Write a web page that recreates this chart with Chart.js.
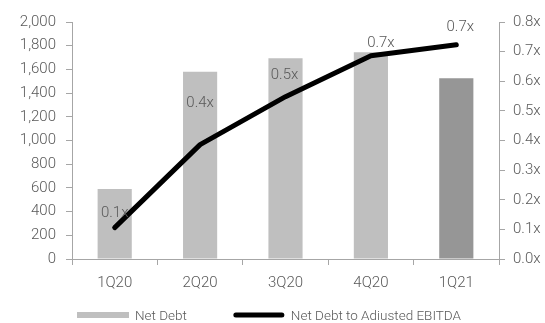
<!DOCTYPE html>
<html>
<head>
<meta charset="utf-8">
<script src="https://cdn.jsdelivr.net/npm/chart.js@4/dist/chart.umd.min.js"></script>
<style>
  html, body { margin: 0; padding: 0; background: #fff; }
  #wrap { width: 545px; height: 323px; }
</style>
</head>
<body>
<div id="wrap"><canvas id="chart"></canvas></div>
<script>
const quarters = ['1Q20', '2Q20', '3Q20', '4Q20', '1Q21'];
const netDebt = [590, 1580, 1695, 1745, 1525];
const leverage = [0.106, 0.386, 0.548, 0.686, 0.723];
const barColors = ['#bfbfbf', '#bfbfbf', '#bfbfbf', '#bfbfbf', '#969696'];

// label nudges (px) for the leverage callouts
const labelShift = [[0, -14], [0, -41], [-1, -21], [10, -13], [4, -18]];

const FONT = 'Roboto';
const TXT = '#595959';
const AXIS = '#a6a6a6';

const leverageLabels = {
  id: 'leverageLabels',
  afterDatasetsDraw(chart) {
    const meta = chart.getDatasetMeta(1);
    const ctx = chart.ctx;
    ctx.save();
    ctx.font = '300 15px ' + FONT;
    ctx.fillStyle = TXT;
    ctx.textAlign = 'center';
    ctx.textBaseline = 'middle';
    meta.data.forEach((pt, i) => {
      const [dx, dy] = labelShift[i];
      ctx.fillText(leverage[i].toFixed(1) + 'x', pt.x + dx, pt.y + dy);
    });
    ctx.restore();
  }
};

// bottom legend: wide gap between the two entries, sitting low under the axis labels
const bottomLegend = {
  id: 'bottomLegend',
  afterDraw(chart) {
    const ctx = chart.ctx;
    const ds = chart.data.datasets;
    const sw = 52, gap = 6, between = 46, y = 316;
    ctx.save();
    ctx.font = '300 13.5px ' + FONT;
    const w1 = ctx.measureText(ds[0].label).width;
    let x = chart.chartArea.left + 5;

    ctx.fillStyle = ds[0].backgroundColor[0];
    ctx.fillRect(x, y - 4, sw, 6);
    x += sw + gap;
    ctx.fillStyle = TXT;
    ctx.textBaseline = 'middle';
    ctx.fillText(ds[0].label, x, y + 1);
    x += w1 + between;

    ctx.strokeStyle = ds[1].borderColor;
    ctx.lineWidth = ds[1].borderWidth;
    ctx.lineCap = 'round';
    ctx.beginPath();
    ctx.moveTo(x + 3, y - 1);
    ctx.lineTo(x + sw - 3, y - 1);
    ctx.stroke();
    x += sw + gap;
    ctx.fillText(ds[1].label, x, y + 1);
    ctx.restore();
  }
};

Chart.defaults.font.family = FONT;
Chart.defaults.font.size = 15;
Chart.defaults.font.weight = 300;
Chart.defaults.color = TXT;

new Chart(document.getElementById('chart'), {
  type: 'bar',
  data: {
    labels: quarters,
    datasets: [{
      type: 'bar',
      label: 'Net Debt',
      data: netDebt,
      backgroundColor: barColors,
      borderWidth: 0,
      yAxisID: 'y',
      order: 2,
      barPercentage: 0.5,
      categoryPercentage: 0.8
    }, {
      type: 'line',
      label: 'Net Debt to Adiusted EBITDA',
      data: leverage,
      borderColor: '#000',
      backgroundColor: '#000',
      borderWidth: 5,
      borderCapStyle: 'round',
      borderJoinStyle: 'round',
      pointRadius: 0,
      tension: 0,
      yAxisID: 'y1',
      order: 1
    }]
  },
  options: {
    responsive: true,
    maintainAspectRatio: false,
    animation: false,
    layout: { padding: { top: 22, right: 0, left: 0, bottom: 30 } },
    plugins: {
      tooltip: { enabled: false },
      legend: { display: false }
    },
    scales: {
      x: {
        afterFit(s) { s.height = 34; },
        grid: { display: true, drawOnChartArea: false, tickLength: 6, color: AXIS, offset: true },
        border: { color: AXIS },
        ticks: { padding: 9 }
      },
      y: {
        position: 'left',
        min: 0,
        max: 2000,
        afterFit(s) { s.width = 72; },
        ticks: {
          stepSize: 200,
          padding: 10,
          callback: v => v.toLocaleString('en-US')
        },
        grid: { drawOnChartArea: false, tickLength: 6, color: AXIS },
        border: { color: AXIS }
      },
      y1: {
        position: 'right',
        min: 0,
        max: 0.8,
        afterFit(s) { s.width = 46; },
        ticks: {
          stepSize: 0.1,
          padding: 8,
          callback: v => v.toFixed(1) + 'x'
        },
        grid: { drawOnChartArea: false, tickLength: 6, color: AXIS },
        border: { color: AXIS }
      }
    }
  },
  plugins: [leverageLabels, bottomLegend]
});
</script>
</body>
</html>
